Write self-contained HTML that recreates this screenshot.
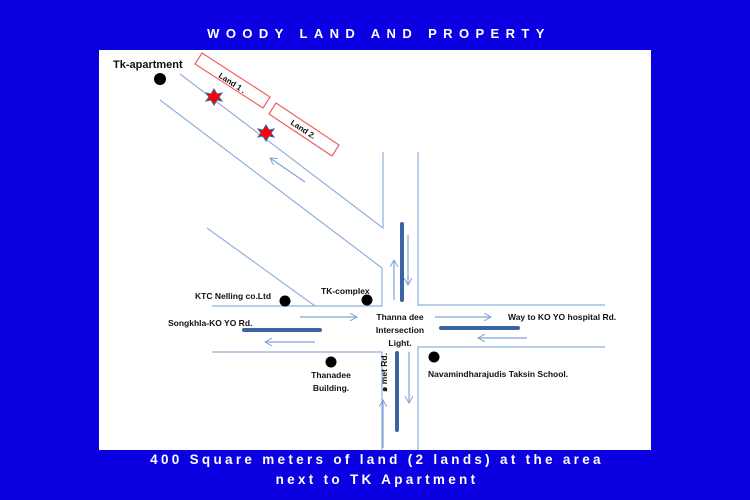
<!DOCTYPE html>
<html><head><meta charset="utf-8"><style>
html,body{margin:0;padding:0;background:#0a00e2;}
svg{display:block}
</style></head><body>
<svg width="750" height="500" viewBox="0 0 750 500" xmlns="http://www.w3.org/2000/svg" font-family="Liberation Sans, sans-serif">
<rect width="750" height="500" fill="#0a00e2"/>
<rect x="99" y="50" width="552" height="400" fill="#fff"/>
<text x="379" y="38" fill="#fff" font-size="13" font-weight="bold" text-anchor="middle" letter-spacing="6.4">WOODY LAND AND PROPERTY</text>
<text x="377" y="464" fill="#fff" font-size="13.5" font-weight="bold" text-anchor="middle" letter-spacing="3.3">400 Square meters of land (2 lands) at the area</text>
<text x="377" y="484" fill="#fff" font-size="13.5" font-weight="bold" text-anchor="middle" letter-spacing="3.3">next to TK Apartment</text>
<defs><marker id="a" markerWidth="8" markerHeight="8" refX="7" refY="4" orient="auto" markerUnits="userSpaceOnUse"><path d="M0,0 L7,4 L0,8" fill="none" stroke="#7fa3d6" stroke-width="1"/></marker></defs>
<g stroke="#8fb0dc" stroke-width="1.2" fill="none">
<polyline points="180,74 383,228 383,152"/>
<polyline points="160,100 382,268 382,306 212,306"/>
<line x1="207" y1="228" x2="315" y2="306"/>
<polyline points="418,152 418,305 605,305"/>
<polyline points="212,352 382,352 382,450"/>
<polyline points="605,347 418,347 418,450"/>
</g>
<g stroke="#7fa3d6" stroke-width="1.2" marker-end="url(#a)">
<line x1="305" y1="182" x2="270" y2="158"/>
<line x1="394" y1="300" x2="394" y2="260"/>
<line x1="408" y1="235" x2="408" y2="285"/>
<line x1="300" y1="317" x2="357" y2="317"/>
<line x1="315" y1="342" x2="265" y2="342"/>
<line x1="435" y1="317" x2="491" y2="317"/>
<line x1="527" y1="338" x2="478" y2="338"/>
<line x1="409" y1="352" x2="409" y2="403"/>
<line x1="383" y1="448" x2="383" y2="400"/>
</g>
<g stroke="#3a64a4" stroke-width="4" stroke-linecap="round">
<line x1="402" y1="224" x2="402" y2="300"/>
<line x1="397" y1="353" x2="397" y2="430"/>
<line x1="244" y1="330" x2="320" y2="330"/>
<line x1="441" y1="328" x2="518" y2="328"/>
</g>
<g fill="none" stroke="#f06060" stroke-width="1.2">
<polygon points="202,53 270,97 263,108 195,64"/>
<polygon points="276,103 339,145 332,156 269,114"/>
</g>
<g fill="#f00" stroke="#3a64a4" stroke-width="1">
<polygon points="214,89 217,94 222,93 219,97 222,101 217,100 214,105 211,100 206,101 209,97 206,93 211,94"/>
<polygon points="266,125 269,130 274,129 271,133 274,137 269,136 266,141 263,136 258,137 261,133 258,129 263,130"/>
</g>
<g fill="#000">
<circle cx="160" cy="79" r="6"/>
<circle cx="285" cy="301" r="5.5"/>
<circle cx="367" cy="300" r="5.5"/>
<circle cx="331" cy="362" r="5.5"/>
<circle cx="434" cy="357" r="5.5"/>
</g>
<g font-size="9.5" font-weight="bold" fill="#111">
<text x="113" y="68" font-size="11">Tk-apartment</text>
<text x="0" y="0" font-size="8" transform="translate(218,77) rotate(33)">Land 1 .</text>
<text x="0" y="0" font-size="8" transform="translate(290,124) rotate(33)">Land 2.</text>
<text x="195" y="299" font-size="8.5">KTC Nelling co.Ltd</text>
<text x="321" y="294" font-size="8.5">TK-complex</text>
<text x="168" y="326" font-size="8.5">Songkhla-KO YO Rd.</text>
<text x="400" y="320" font-size="8.5" text-anchor="middle">Thanna dee</text>
<text x="400" y="333" font-size="8.5" text-anchor="middle">Intersection</text>
<text x="400" y="346" font-size="8.5" text-anchor="middle">Light.</text>
<text x="508" y="320" font-size="8.5">Way to KO YO hospital Rd.</text>
<text x="331" y="378" font-size="8.5" text-anchor="middle">Thanadee</text>
<text x="331" y="391" font-size="8.5" text-anchor="middle">Building.</text>
<text x="428" y="377" font-size="8.5">Navamindharajudis Taksin School.</text>
<text x="0" y="0" font-size="8.5" transform="translate(387,392) rotate(-90)">๑ met Rd.</text>
</g>
</svg>
</body></html>
